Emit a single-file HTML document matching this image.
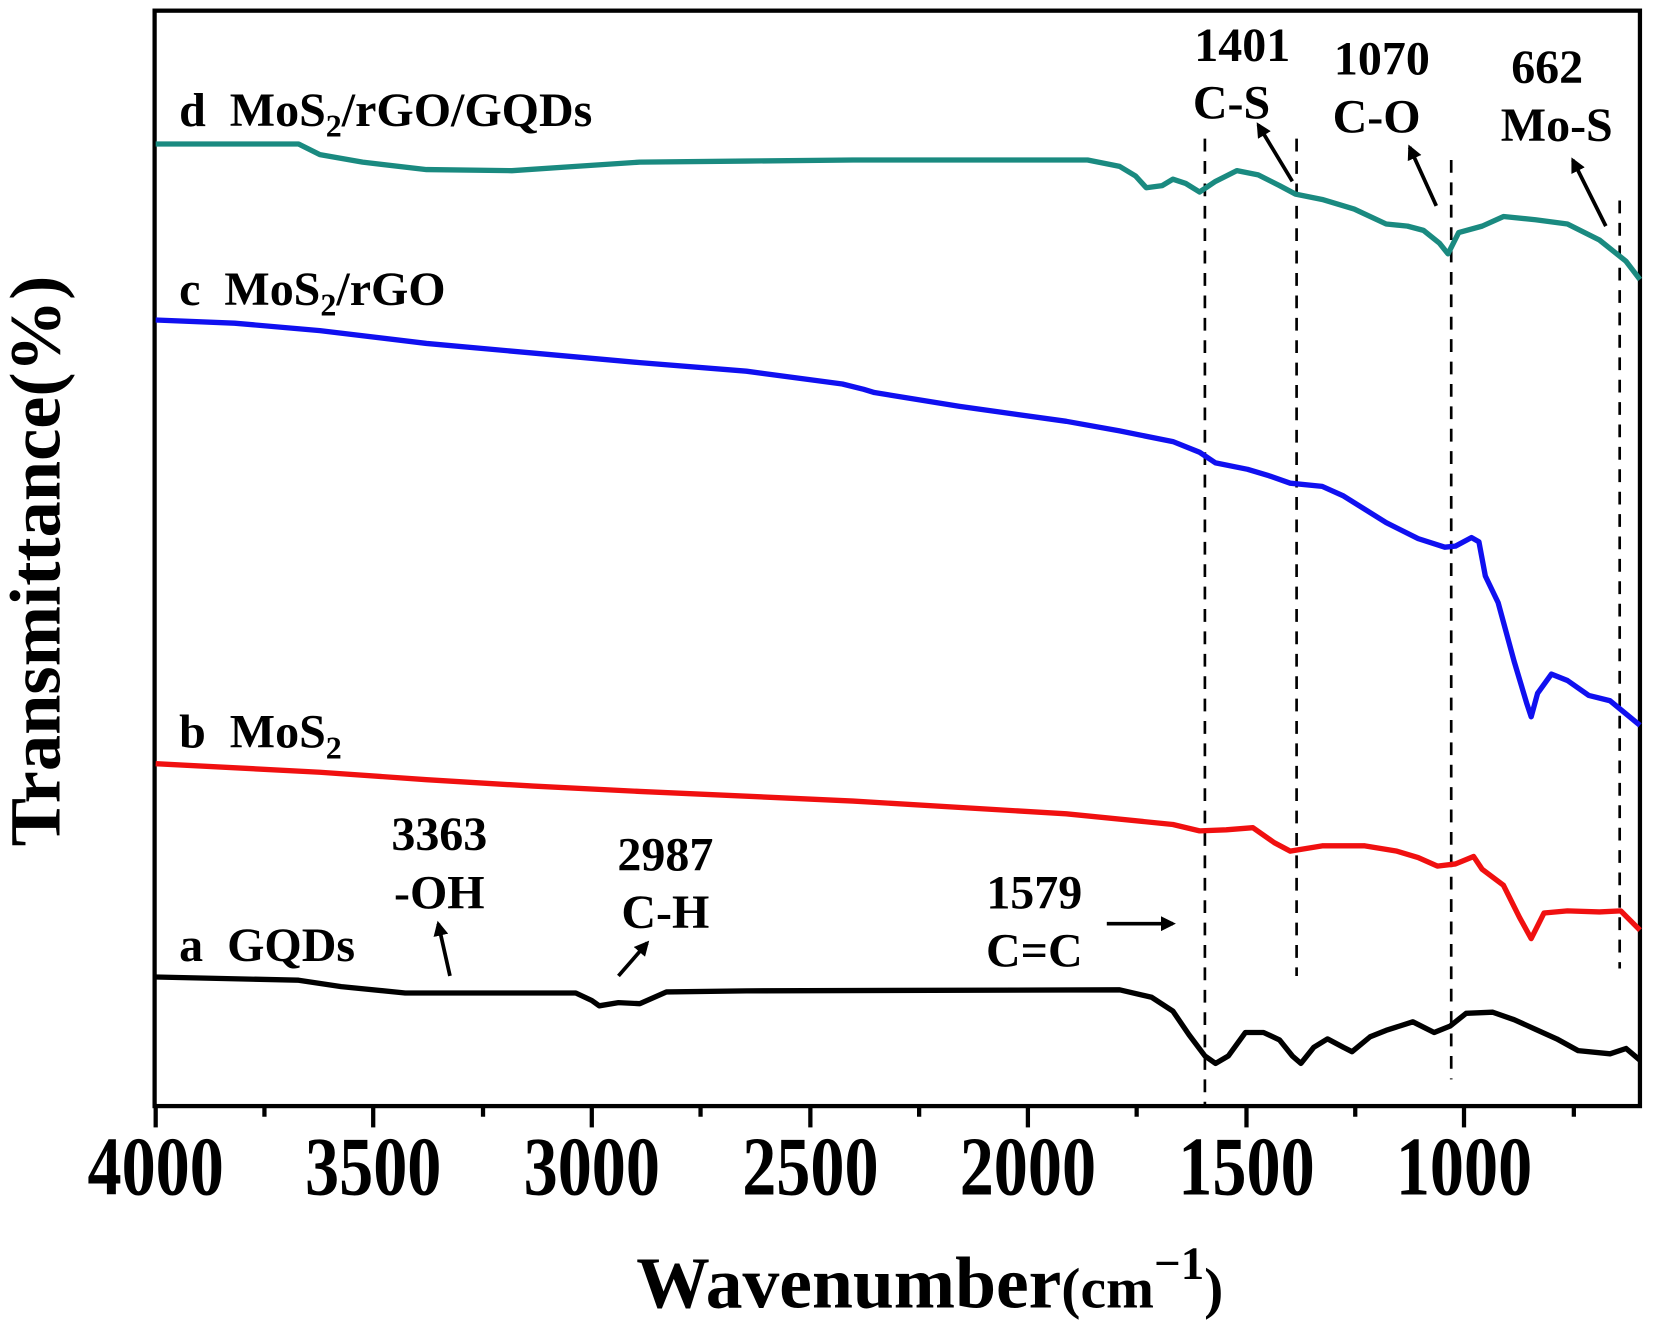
<!DOCTYPE html>
<html><head><meta charset="utf-8"><style>
html,body{margin:0;padding:0;background:#fff;}
svg{display:block;}
text{font-family:"Liberation Serif",serif;font-weight:bold;fill:#000;}
</style></head><body>
<svg width="1673" height="1329" viewBox="0 0 1569 1246" preserveAspectRatio="none" xmlns="http://www.w3.org/2000/svg">
<defs>
<marker id="ah2" viewBox="0 0 10 10" markerWidth="14" markerHeight="14" refX="8" refY="5" orient="auto" markerUnits="userSpaceOnUse"><path d="M0,0 L10,5 L0,10 z" fill="#000"/></marker></defs>
<rect x="145" y="10" width="1393" height="1027" fill="none" stroke="#000" stroke-width="4"/>
<g stroke="#000" stroke-width="4">
<line x1="146" y1="1037" x2="146" y2="1057"/><line x1="350" y1="1037" x2="350" y2="1057"/><line x1="555" y1="1037" x2="555" y2="1057"/><line x1="760" y1="1037" x2="760" y2="1057"/><line x1="964" y1="1037" x2="964" y2="1057"/><line x1="1169" y1="1037" x2="1169" y2="1057"/><line x1="1373" y1="1037" x2="1373" y2="1057"/>
<line x1="248" y1="1037" x2="248" y2="1047"/><line x1="453" y1="1037" x2="453" y2="1047"/><line x1="657" y1="1037" x2="657" y2="1047"/><line x1="862" y1="1037" x2="862" y2="1047"/><line x1="1066" y1="1037" x2="1066" y2="1047"/><line x1="1271" y1="1037" x2="1271" y2="1047"/><line x1="1476" y1="1037" x2="1476" y2="1047"/>
</g>
<g font-size="78" text-anchor="middle">
<text transform="translate(146,1120) scale(0.82,1)">4000</text>
<text transform="translate(350,1120) scale(0.82,1)">3500</text>
<text transform="translate(555,1120) scale(0.82,1)">3000</text>
<text transform="translate(760,1120) scale(0.82,1)">2500</text>
<text transform="translate(964,1120) scale(0.82,1)">2000</text>
<text transform="translate(1169,1120) scale(0.82,1)">1500</text>
<text transform="translate(1373,1120) scale(0.82,1)">1000</text>
</g>
<text x="872" y="1226" font-size="69" text-anchor="middle">Wavenumber<tspan font-size="54">(cm</tspan><tspan font-size="44" dy="-27">−1</tspan><tspan font-size="54" dy="27">)</tspan></text>
<text transform="translate(56,526) rotate(-90)" font-size="68" text-anchor="middle">Transmittance(%)</text>
<g stroke="#000" stroke-width="2.5" stroke-dasharray="12,9" fill="none">
<line x1="1130" y1="130" x2="1130" y2="1037"/><line x1="1216" y1="130" x2="1216" y2="915"/><line x1="1361" y1="150" x2="1361" y2="1012"/><line x1="1519" y1="188" x2="1519" y2="908"/>
</g>
<g fill="none" stroke-width="5" stroke-linejoin="round">
<polyline stroke="#1a8a80" points="146,135 280,135 300,145 340,152 400,159 480,160 540,156 600,152 700,151 800,150 900,150 1020,150 1050,156 1065,165 1075,176 1090,174 1100,168 1112,172 1125,180 1140,170 1160,160 1180,164 1200,174 1215,182 1240,187 1270,196 1300,210 1320,212 1335,216 1350,228 1358,238 1368,218 1390,212 1410,203 1440,206 1470,210 1500,225 1515,237 1525,245 1538,262"/>
<polyline stroke="#1010f0" points="146,300 220,303 300,310 400,322 500,331 600,340 700,348 790,360 810,365 820,368 900,381 1000,395 1050,404 1100,414 1125,424 1140,434 1170,440 1190,446 1210,453 1240,456 1260,465 1300,490 1330,505 1355,513 1365,512 1380,504 1387,508 1393,540 1405,565 1420,620 1432,660 1436,672 1442,650 1455,632 1470,638 1490,652 1510,657 1538,680"/>
<polyline stroke="#f01010" points="146,716 300,724 400,731 500,737 600,742 800,751 1000,763 1100,773 1125,779 1150,778 1175,776 1195,790 1210,798 1240,793 1280,793 1310,798 1330,804 1348,812 1365,810 1382,803 1390,815 1410,830 1425,860 1436,880 1448,856 1470,854 1500,855 1520,854 1538,872"/>
<polyline stroke="#000" points="146,916 280,919 320,925 380,931 540,931 555,938 562,943 580,940 600,941 625,930 700,929 1050,928 1080,935 1100,948 1115,970 1130,990 1140,997 1152,990 1168,968 1185,968 1200,975 1212,990 1220,997 1232,982 1245,974 1260,982 1268,986 1285,972 1300,966 1325,958 1345,968 1360,962 1375,950 1400,949 1420,956 1440,965 1460,974 1480,985 1510,988 1525,983 1538,994"/>
</g>
<g stroke="#000" stroke-width="3.5" fill="none">
<line x1="422" y1="915" x2="411" y2="866" marker-end="url(#ah2)"/>
<line x1="580" y1="915" x2="607" y2="884" marker-end="url(#ah2)"/>
<line x1="1038" y1="866" x2="1100" y2="866" marker-end="url(#ah2)"/>
<line x1="1212" y1="170" x2="1180" y2="117" marker-end="url(#ah2)"/>
<line x1="1347" y1="193" x2="1322" y2="138" marker-end="url(#ah2)"/>
<line x1="1506" y1="212" x2="1475" y2="150" marker-end="url(#ah2)"/>
</g>
<g font-size="45">
<text x="168" y="118">d&#160; MoS<tspan font-size="30" dy="10">2</tspan><tspan dy="-10">/rGO/GQDs</tspan></text>
<text x="168" y="286">c&#160; MoS<tspan font-size="30" dy="10">2</tspan><tspan dy="-10">/rGO</tspan></text>
<text x="168" y="701">b&#160; MoS<tspan font-size="30" dy="10">2</tspan></text>
<text x="168" y="901">a&#160; GQDs</text>
</g>
<g font-size="45" text-anchor="middle">
<text x="412" y="797">3363</text><text x="412" y="852">-OH</text>
<text x="624" y="816">2987</text><text x="624" y="870">C-H</text>
<text x="970" y="852">1579</text><text x="970" y="906">C=C</text>
<text x="1165" y="57">1401</text><text x="1155" y="111">C-S</text>
<text x="1296" y="70">1070</text><text x="1291" y="124">C-O</text>
<text x="1451" y="78">662</text><text x="1460" y="132">Mo-S</text>
</g>
</svg>
</body></html>
